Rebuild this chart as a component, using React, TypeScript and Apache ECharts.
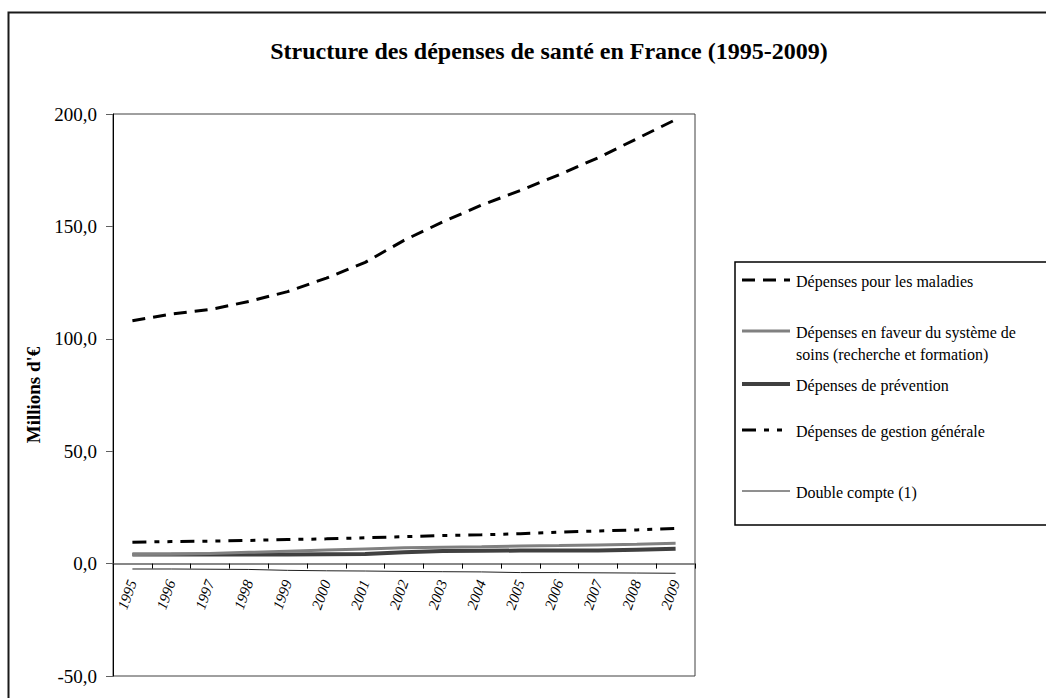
import React, { useEffect, useRef } from "react";
import * as echarts from "echarts";

const years = ["1995","1996","1997","1998","1999","2000","2001","2002","2003","2004","2005","2006","2007","2008","2009"];
const maladies = [108, 111, 113, 116.6, 121, 127, 134, 143.8, 152, 159.5, 166, 173, 180.5, 189, 197.5];
const faveur = [4.0, 4.2, 4.5, 5.0, 5.5, 6.0, 6.5, 7.0, 7.3, 7.5, 7.8, 8.0, 8.3, 8.6, 9.0];
const prevention = [4.0, 4.0, 4.0, 4.1, 4.1, 4.2, 4.3, 5.0, 5.6, 5.7, 5.8, 5.8, 5.8, 6.2, 6.6];
const gestion = [9.5, 9.8, 10.0, 10.3, 10.7, 11.0, 11.5, 12.0, 12.5, 12.8, 13.3, 14.0, 14.5, 15.0, 15.6];
const doubleCompte = [-2.4, -2.4, -2.5, -2.6, -3.0, -3.2, -3.3, -3.5, -3.6, -3.7, -4.0, -4.0, -4.1, -4.2, -4.3];

const seriesNames = [
  "Dépenses pour les maladies",
  "Dépenses en faveur du système de\nsoins (recherche et formation)",
  "Dépenses de prévention",
  "Dépenses de gestion générale",
  "Double compte (1)",
];
const title = "Structure des dépenses de santé en France (1995-2009)";
const yName = "Millions d'€";
const yMin = -50;
const yMax = 200;
const yStep = 50;

const FONT = "Liberation Serif";

export default function App() {
  const ref = useRef<HTMLDivElement>(null);
  useEffect(() => {
    document.body.style.margin = "0";
    const chart = echarts.init(ref.current!, null, { renderer: "svg" });
    const gridTop = 114;
    const gridH = 562;
    const zeroOffset = (gridH * (0 - yMin)) / (yMax - yMin);
    const styles = [
      { color: "#000000", width: 3, type: [13, 8] as any },
      { color: "#808080", width: 3, type: "solid" as any },
      { color: "#404040", width: 4, type: "solid" as any },
      { color: "#000000", width: 3, type: [14, 8, 5, 8, 5, 8] as any },
      { color: "#202020", width: 1, type: "solid" as any },
    ];
    const data = [maladies, faveur, prevention, gestion, doubleCompte];
    const legendY = [280, 331, 384, 430, 491];
    const legendLines: any[] = [];
    const legendTexts: any[] = [];
    styles.forEach((s, i) => {
      legendLines.push({
        type: "line",
        shape: { x1: 742, y1: legendY[i], x2: 790, y2: legendY[i] },
        style: { stroke: s.color, lineWidth: s.width, lineDash: Array.isArray(s.type) ? s.type : null },
        silent: true,
      });
      legendTexts.push({
        text: seriesNames[i],
        left: 791,
        top: legendY[i] - 15,
        textStyle: { fontFamily: FONT, fontSize: 16, fontWeight: "normal", color: "#000", lineHeight: 22 },
      });
    });
    chart.setOption({
      animation: false,
      backgroundColor: "#ffffff",
      title: [
        {
          text: title,
          left: 544,
          top: 34,
          textAlign: "center",
          textStyle: { fontFamily: FONT, fontSize: 24, fontWeight: "bold", color: "#000" },
        },
        ...legendTexts,
      ],
      grid: {
        left: 113,
        top: gridTop,
        width: 582,
        height: gridH,
        show: true,
        borderColor: "#404040",
        borderWidth: 1,
        backgroundColor: "transparent",
        outerBoundsMode: "none",
        containLabel: false,
      },
      xAxis: {
        type: "category",
        data: years,
        boundaryGap: true,
        position: "bottom",
        offset: -zeroOffset,
        axisLine: { onZero: false, lineStyle: { color: "#606060", width: 1.5 } },
        axisTick: { show: true, length: 5, lineStyle: { color: "#000" } },
        axisLabel: {
          rotate: 70,
          margin: 17,
          fontFamily: FONT,
          fontSize: 15,
          fontStyle: "italic",
          color: "#000",
          interval: 0,
        },
        splitLine: { show: false },
      },
      yAxis: {
        type: "value",
        min: yMin,
        max: yMax,
        interval: yStep,
        name: yName,
        nameLocation: "middle",
        nameRotate: 90,
        nameGap: 70,
        nameTextStyle: { fontFamily: FONT, fontSize: 19, fontWeight: "bold", color: "#000" },
        axisLine: { show: true, onZero: false, lineStyle: { color: "#000", width: 1 } },
        axisTick: { show: true, length: 7, lineStyle: { color: "#606060" } },
        axisLabel: {
          margin: 16,
          fontFamily: FONT,
          fontSize: 19,
          color: "#000",
          formatter: (v: number) => v.toFixed(1).replace(".", ","),
        },
        splitLine: { show: false },
      },
      series: data.map((d, i) => ({
        name: seriesNames[i],
        type: "line",
        data: d,
        symbol: "none",
        lineStyle: { color: styles[i].color, width: styles[i].width, type: styles[i].type },
        itemStyle: { color: styles[i].color },
        z: 5 - i,
      })),
      graphic: [
        {
          type: "rect",
          shape: { x: 8.5, y: 12.5, width: 1100, height: 800 },
          style: { fill: "none", stroke: "#1a1a1a", lineWidth: 2 },
          silent: true,
          z: -10,
        },
        {
          type: "rect",
          shape: { x: 735, y: 262, width: 400, height: 263 },
          style: { fill: "#ffffff", stroke: "#000", lineWidth: 1.5 },
          silent: true,
          z: -5,
        },
        ...legendLines,
      ],
    });
    return () => chart.dispose();
  }, []);
  return <div ref={ref} style={{ width: 1046, height: 698 }} />;
}
